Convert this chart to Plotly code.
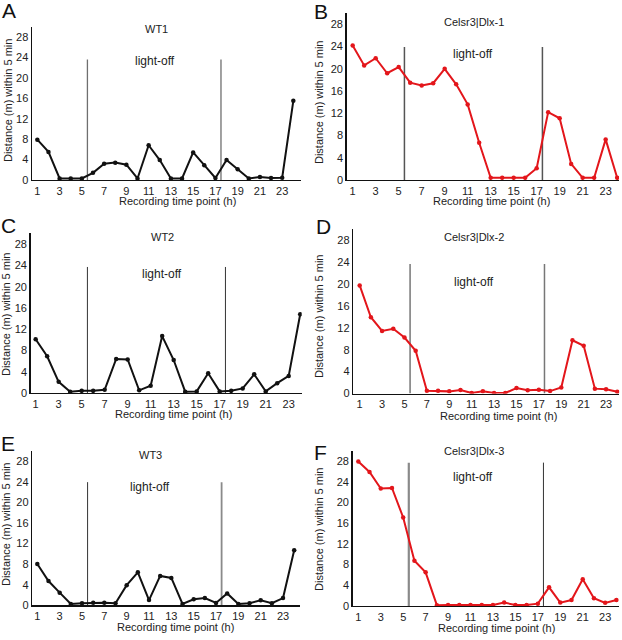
import plotly.graph_objects as go

W, H = 622, 640

hours = list(range(1, 25))

wt1 = [7.9, 5.5, 0.3, 0.3, 0.3, 1.4, 3.2, 3.4, 3.0, 0.3, 6.8, 3.9,
       0.3, 0.3, 5.4, 2.9, 0.4, 3.9, 2.1, 0.3, 0.6, 0.4, 0.45, 15.5]
celsr1 = [24.2, 20.6, 21.9, 19.2, 20.3, 17.5, 17.0, 17.4, 20.0, 17.2, 13.6, 6.7,
          0.4, 0.4, 0.4, 0.4, 2.1, 12.2, 11.1, 2.9, 0.4, 0.4, 7.3, 0.4]
wt2 = [10.1, 6.9, 2.1, 0.25, 0.4, 0.4, 0.6, 6.4, 6.3, 0.5, 1.35, 10.7,
       6.2, 0.25, 0.3, 3.7, 0.3, 0.4, 0.85, 3.5, 0.3, 1.85, 3.2, 14.8]
celsr2 = [19.7, 13.9, 11.4, 11.8, 10.2, 7.8, 0.5, 0.5, 0.4, 0.65, 0.1, 0.4,
          0.1, 0.1, 1.0, 0.6, 0.7, 0.45, 1.1, 9.7, 8.7, 0.9, 0.8, 0.35]
wt3 = [8.0, 4.7, 2.45, 0.25, 0.4, 0.5, 0.5, 0.4, 3.9, 6.4, 1.0, 5.7,
       5.3, 0.25, 1.15, 1.4, 0.45, 2.3, 0.25, 0.4, 0.95, 0.4, 1.4, 10.7]
celsr3 = [27.9, 25.9, 22.7, 22.8, 17.1, 8.75, 6.5, 0.15, 0.2, 0.2, 0.2, 0.2,
          0.2, 0.65, 0.2, 0.2, 0.45, 3.6, 0.65, 1.15, 5.15, 1.5, 0.6, 1.15]

panel_letters = ["A", "B", "C", "D", "E", "F"]
panel_titles = ["WT1", "Celsr3|Dlx-1", "WT2", "Celsr3|Dlx-2", "WT3", "Celsr3|Dlx-3"]
series = [wt1, celsr1, wt2, celsr2, wt3, celsr3]

light_off_hours = [5.5, 17.5]
light_line_tops = [23.6, 23.9, 23.7, 23.6, 23.9, 27.7]

x_tick_vals = list(range(1, 24, 2))
y_tick_vals = list(range(0, 29, 4))
x_title = "Recording time point (h)"
y_title = "Distance (m) within 5 min"
light_label = "light-off"

# ---- layout (pixel geometry) ----
BLACK = "#111111"
RED = "#e3161b"
colors = [BLACK, RED, BLACK, RED, BLACK, RED]

# (left, right, top, bottom) px of plot area
boxes = [
    (32.0, 301.0, 27.0, 181.7),
    (346.7, 619.0, 13.3, 181.7),
    (30.7, 301.7, 235.7, 396.7),
    (353.3, 619.3, 231.0, 397.3),
    (32.3, 300.0, 455.0, 611.0),
    (352.7, 619.3, 455.0, 611.7),
]
xranges = [(0.52, 24.69), (0.48, 24.16), (0.57, 24.13),
           (0.43, 24.18), (0.55, 24.52), (0.50, 24.26)]

letter_pos = [(9, 11), (321, 12), (8, 228), (323, 229), (8, 448), (321, 457)]
title_pos = [(157, 29), (474, 22), (162, 239), (474, 239), (150, 459), (474, 455)]
light_pos = [(155, 62), (473, 55), (162, 277), (474, 285), (150, 492), (473, 482)]
ytitle_pos = [(8, 102), (319, 104), (6, 318), (319, 320), (6, 530), (319, 535)]
xtitle_pos = [(177, 202.5), (491, 203), (173, 418), (498, 420), (175, 632.5), (496, 634)]
vline_styles_pair = [
    [("#6f6f6f", 1.3), ("#6f6f6f", 1.3)],
    [("#555555", 1.5), ("#555555", 1.5)],
    [("#333333", 1.0), ("#333333", 1.0)],
    [("#777777", 1.5), ("#777777", 1.5)],
    [("#333333", 1.0), ("#8a8a8a", 1.8)],
    [("#8a8a8a", 2.2), ("#333333", 1.0)],
]


def px(x):
    return x / W


def py(y):
    return 1 - y / H


FONT = "Liberation Sans, Arial, sans-serif"

fig = go.Figure()
annotations = []
shapes = []
layout_axes = {}

for i in range(6):
    n = i + 1
    xa = "x" if n == 1 else f"x{n}"
    ya = "y" if n == 1 else f"y{n}"
    l, r, t, b = boxes[i]
    fig.add_trace(go.Scatter(
        x=hours, y=series[i], mode="lines+markers",
        line=dict(color=colors[i], width=2),
        marker=dict(color=colors[i], size=4.5),
        xaxis=xa, yaxis=ya, showlegend=False, hoverinfo="skip"))
    xkey = "xaxis" if n == 1 else f"xaxis{n}"
    ykey = "yaxis" if n == 1 else f"yaxis{n}"
    layout_axes[xkey] = dict(
        domain=[px(l), px(r)], anchor=ya, range=list(xranges[i]),
        tickvals=x_tick_vals, ticks="", showgrid=False, zeroline=False,
        showline=True, linecolor=BLACK, linewidth=1.5, fixedrange=True,
        tickfont=dict(size=11, color="#222", family=FONT))
    layout_axes[ykey] = dict(
        domain=[py(b), py(t)], anchor=xa, range=[0, 30],
        tickvals=y_tick_vals, ticks="", showgrid=False, zeroline=False,
        showline=True, linecolor=BLACK, linewidth=1.5, fixedrange=True,
        tickfont=dict(size=11, color="#222", family=FONT))

    for j, h in enumerate(light_off_hours):
        c, w = vline_styles_pair[i][j]
        shapes.append(dict(type="line", xref=xa, yref=ya, x0=h, x1=h,
                           y0=0, y1=light_line_tops[i],
                           line=dict(color=c, width=w), layer="below"))

    lx, ly = letter_pos[i]
    annotations.append(dict(text=panel_letters[i], x=px(lx), y=py(ly),
                            xref="paper", yref="paper", showarrow=False,
                            xanchor="center", yanchor="middle",
                            font=dict(size=21, color="#111", family=FONT)))
    tx, ty = title_pos[i]
    annotations.append(dict(text=panel_titles[i], x=px(tx), y=py(ty),
                            xref="paper", yref="paper", showarrow=False,
                            xanchor="center", yanchor="middle",
                            font=dict(size=11, color="#222", family=FONT)))
    gx, gy = light_pos[i]
    annotations.append(dict(text=light_label, x=px(gx), y=py(gy),
                            xref="paper", yref="paper", showarrow=False,
                            xanchor="center", yanchor="middle",
                            font=dict(size=12, color="#222", family=FONT)))
    yx, yy = ytitle_pos[i]
    annotations.append(dict(text=y_title, x=px(yx), y=py(yy),
                            xref="paper", yref="paper", showarrow=False,
                            xanchor="center", yanchor="middle", textangle=-90,
                            font=dict(size=11, color="#222", family=FONT)))
    xx, xy = xtitle_pos[i]
    annotations.append(dict(text=x_title, x=px(xx), y=py(xy),
                            xref="paper", yref="paper", showarrow=False,
                            xanchor="center", yanchor="middle",
                            font=dict(size=11, color="#222", family=FONT)))

fig.update_layout(
    width=W, height=H,
    margin=dict(l=0, r=0, t=0, b=0),
    paper_bgcolor="white", plot_bgcolor="white",
    font=dict(family=FONT, size=11, color="#222"),
    annotations=annotations, shapes=shapes,
    **layout_axes)

fig.write_html(
    "out.html",
    config={"displayModeBar": False, "staticPlot": True},
    post_script="document.body.style.margin='0';"
                "document.body.style.padding='0';"
                "document.body.style.overflow='hidden';"
                "document.documentElement.style.overflow='hidden';")
